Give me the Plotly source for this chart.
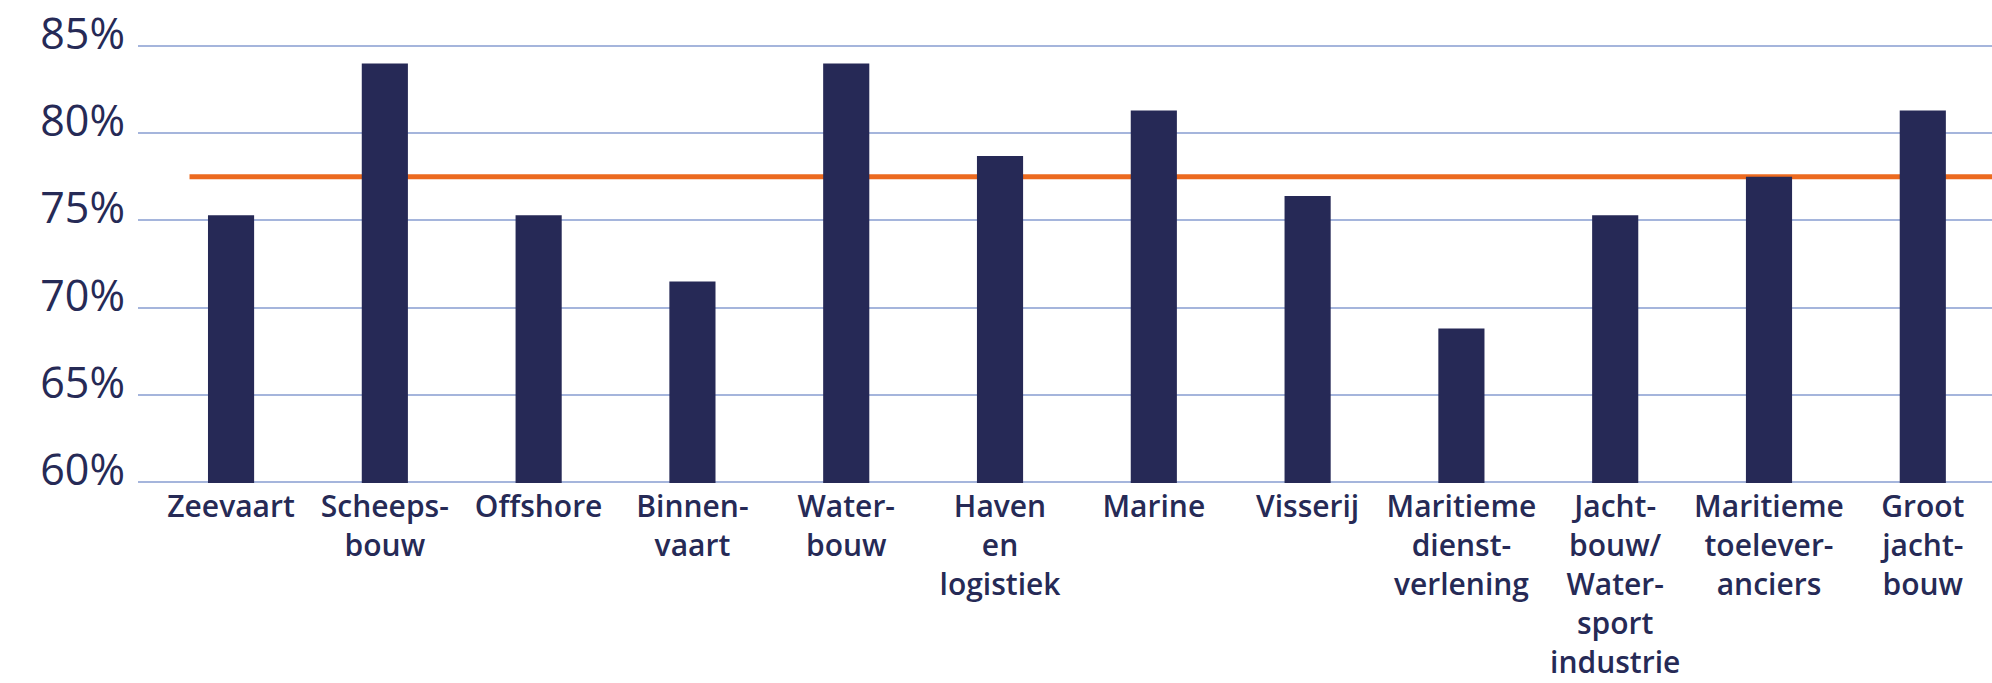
import plotly.graph_objects as go

categories = ["Zeevaart", "Scheepsbouw", "Offshore", "Binnenvaart", "Waterbouw",
              "Haven en logistiek", "Marine", "Visserij", "Maritieme dienstverlening",
              "Jachtbouw/Watersport industrie", "Maritieme toeleveranciers", "Groot jachtbouw"]
tick_labels = ["Zeevaart", "Scheeps-<br>bouw", "Offshore", "Binnen-<br>vaart", "Water-<br>bouw",
               "Haven<br>en<br>logistiek", "Marine", "Visserij", "Maritieme<br>dienst-<br>verlening",
               "Jacht-<br>bouw/<br>Water-<br>sport<br>industrie", "Maritieme<br>toelever-<br>anciers",
               "Groot<br>jacht-<br>bouw"]
values = [75.3, 84.0, 75.3, 71.5, 84.0, 78.7, 81.3, 76.4, 68.8, 75.3, 77.5, 81.3]
average = 77.5
y_ticks = [60, 65, 70, 75, 80, 85]

NAVY = "#262956"
GRID = "#a5b5dc"
ORANGE = "#ec6a1f"
TEXT = "#262a56"

fig = go.Figure()
fig.add_trace(go.Bar(x=categories, y=values, marker=dict(color=NAVY, line=dict(width=0)),
                     hoverinfo="x+y"))

fig.add_shape(type="line", xref="x", yref="y", x0=-0.27, x1=11.45, y0=average, y1=average,
              line=dict(color=ORANGE, width=5), layer="below")

fig.update_layout(
    width=1992, height=683,
    margin=dict(l=138, r=0, t=45, b=200),
    paper_bgcolor="white", plot_bgcolor="white",
    showlegend=False,
    bargap=0.70,
    font=dict(family="Open Sans", color=TEXT),
)
fig.update_xaxes(
    range=[-0.605, 11.45], automargin=False,
    tickmode="array", tickvals=categories, ticktext=tick_labels,
    tickfont=dict(size=30, color=TEXT, family="Open Sans", weight=600),
    showgrid=False, showline=False,
    ticks="", ticklabelstandoff=3, ticklabeloverflow="allow",
)
fig.update_yaxes(
    range=[59.94, 85.06], automargin=False,
    tickvals=y_ticks, ticktext=[f"{v}%" for v in y_ticks],
    tickfont=dict(size=43, color=TEXT, family="Open Sans"),
    showgrid=True, gridcolor=GRID, gridwidth=2,
    zeroline=False, showline=False, ticks="", ticklabelstandoff=12,
    ticklabelshift=-12, ticklabeloverflow="allow",
)

# remove the default 8px page margin so the figure fills the window exactly
fig.write_html("out.html", config={"displayModeBar": False},
               post_script="document.body.style.margin='0px';")
